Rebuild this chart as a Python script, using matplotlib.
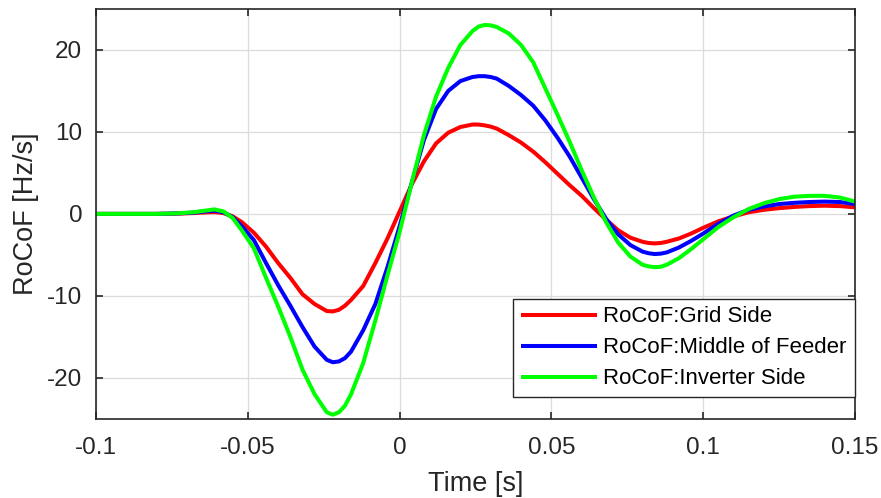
import matplotlib
matplotlib.use("Agg")
import matplotlib.pyplot as plt

plt.rcParams["font.family"] = ["Liberation Sans", "DejaVu Sans"]
plt.rcParams["axes.unicode_minus"] = False

# time axis [s]
t = [-0.1, -0.08, -0.074, -0.068, -0.064, -0.061, -0.058, -0.055, -0.052, -0.048, -0.044,
     -0.04, -0.036, -0.032, -0.028, -0.024, -0.022, -0.02, -0.018, -0.016, -0.012, -0.008, -0.004,
     0.0, 0.004, 0.008, 0.012, 0.016, 0.02, 0.024, 0.026, 0.028, 0.03, 0.032, 0.036, 0.04,
     0.044, 0.048, 0.052, 0.056, 0.06, 0.064, 0.068, 0.072, 0.076, 0.08, 0.082, 0.084, 0.086,
     0.088, 0.092, 0.096, 0.1, 0.105, 0.11, 0.115, 0.12, 0.125, 0.13, 0.135,
     0.14, 0.145, 0.15]

grid_side = [0.0, 0.0, 0.02, 0.1, 0.18, 0.22, 0.1, -0.3, -1.0, -2.3, -4.0,
             -6.0, -7.8, -9.8, -11.0, -11.85, -11.9, -11.7, -11.2, -10.5, -8.8, -6.0, -3.0,
             0.3, 3.6, 6.4, 8.6, 9.9, 10.6, 10.9, 10.9, 10.8, 10.65, 10.4, 9.6, 8.7,
             7.6, 6.3, 4.9, 3.5, 2.2, 0.7, -0.7, -2.0, -2.9, -3.4, -3.55, -3.6, -3.55,
             -3.4, -3.0, -2.4, -1.7, -0.9, -0.3, 0.2, 0.5, 0.7, 0.85, 0.95,
             1.0, 0.95, 0.8]

middle_feeder = [0.0, 0.0, 0.05, 0.15, 0.3, 0.4, 0.2, -0.4, -1.5, -3.2, -6.0,
                 -8.7, -11.2, -13.8, -16.2, -17.8, -18.1, -18.0, -17.6, -16.8, -14.2, -11.0, -6.5,
                 -1.5, 3.8, 9.0, 12.8, 15.0, 16.2, 16.7, 16.8, 16.8, 16.7, 16.5, 15.6, 14.5,
                 13.2, 11.4, 9.3, 7.0, 4.4, 1.8, -0.6, -2.5, -3.8, -4.6, -4.8, -4.9, -4.85,
                 -4.7, -4.1, -3.3, -2.4, -1.2, -0.2, 0.5, 0.9, 1.2, 1.35, 1.45,
                 1.5, 1.45, 1.2]

inverter_side = [0.0, 0.0, 0.05, 0.2, 0.4, 0.55, 0.3, -0.5, -2.0, -4.2, -7.8,
                 -11.3, -15.0, -19.0, -22.0, -24.2, -24.5, -24.2, -23.4, -22.0, -18.2, -13.0, -7.5,
                 -2.2, 3.8, 9.6, 14.3, 17.8, 20.6, 22.3, 22.85, 23.05, 23.0, 22.8, 22.0, 20.6,
                 18.5, 15.3, 12.1, 8.8, 5.3, 2.0, -1.0, -3.5, -5.2, -6.2, -6.4, -6.5, -6.45,
                 -6.2, -5.4, -4.3, -3.1, -1.6, -0.4, 0.6, 1.3, 1.8, 2.1, 2.2,
                 2.2, 2.0, 1.5]

series = [
    ("RoCoF:Grid Side", grid_side, "#ff0000"),
    ("RoCoF:Middle of Feeder", middle_feeder, "#0000ff"),
    ("RoCoF:Inverter Side", inverter_side, "#00ff00"),
]

xticks = [-0.1, -0.05, 0, 0.05, 0.1, 0.15]
xtick_labels = ["-0.1", "-0.05", "0", "0.05", "0.1", "0.15"]
yticks = [-20, -10, 0, 10, 20]

fig = plt.figure(figsize=(8.81, 4.98), dpi=100)
ax = fig.add_axes([0.109, 0.159, 0.8615, 0.823])

for label, y, color in series:
    ax.plot(t, y, color=color, lw=2.9, label=label,
            solid_joinstyle="round", solid_capstyle="butt")

ax.set_xlim(-0.1, 0.15)
ax.set_ylim(-25, 25)
ax.set_xticks(xticks)
ax.set_xticklabels(xtick_labels)
ax.set_yticks(yticks)
ax.tick_params(direction="in", top=True, right=True, labelsize=17.5,
               colors="#262626", length=5, width=1.2)
ax.tick_params(axis="x", pad=13)
ax.tick_params(axis="y", pad=10)
ax.grid(True, color="#dcdcdc", lw=0.9)
ax.set_axisbelow(True)
for s in ax.spines.values():
    s.set_color("#262626")
    s.set_linewidth(1.2)

ax.set_xlabel("Time [s]", fontsize=19.5, color="#262626", labelpad=9)
ax.set_ylabel("RoCoF [Hz/s]", fontsize=19.5, color="#262626", labelpad=6)

leg = ax.legend(loc="lower right", fontsize=16, fancybox=False, framealpha=1,
                edgecolor="#262626", handlelength=3.4, handletextpad=0.3,
                borderpad=0.35, labelspacing=0.45, borderaxespad=0.0,
                bbox_to_anchor=(0.9995, 0.053))
leg.get_frame().set_linewidth(1.0)

fig.savefig("out.png", dpi=100)
